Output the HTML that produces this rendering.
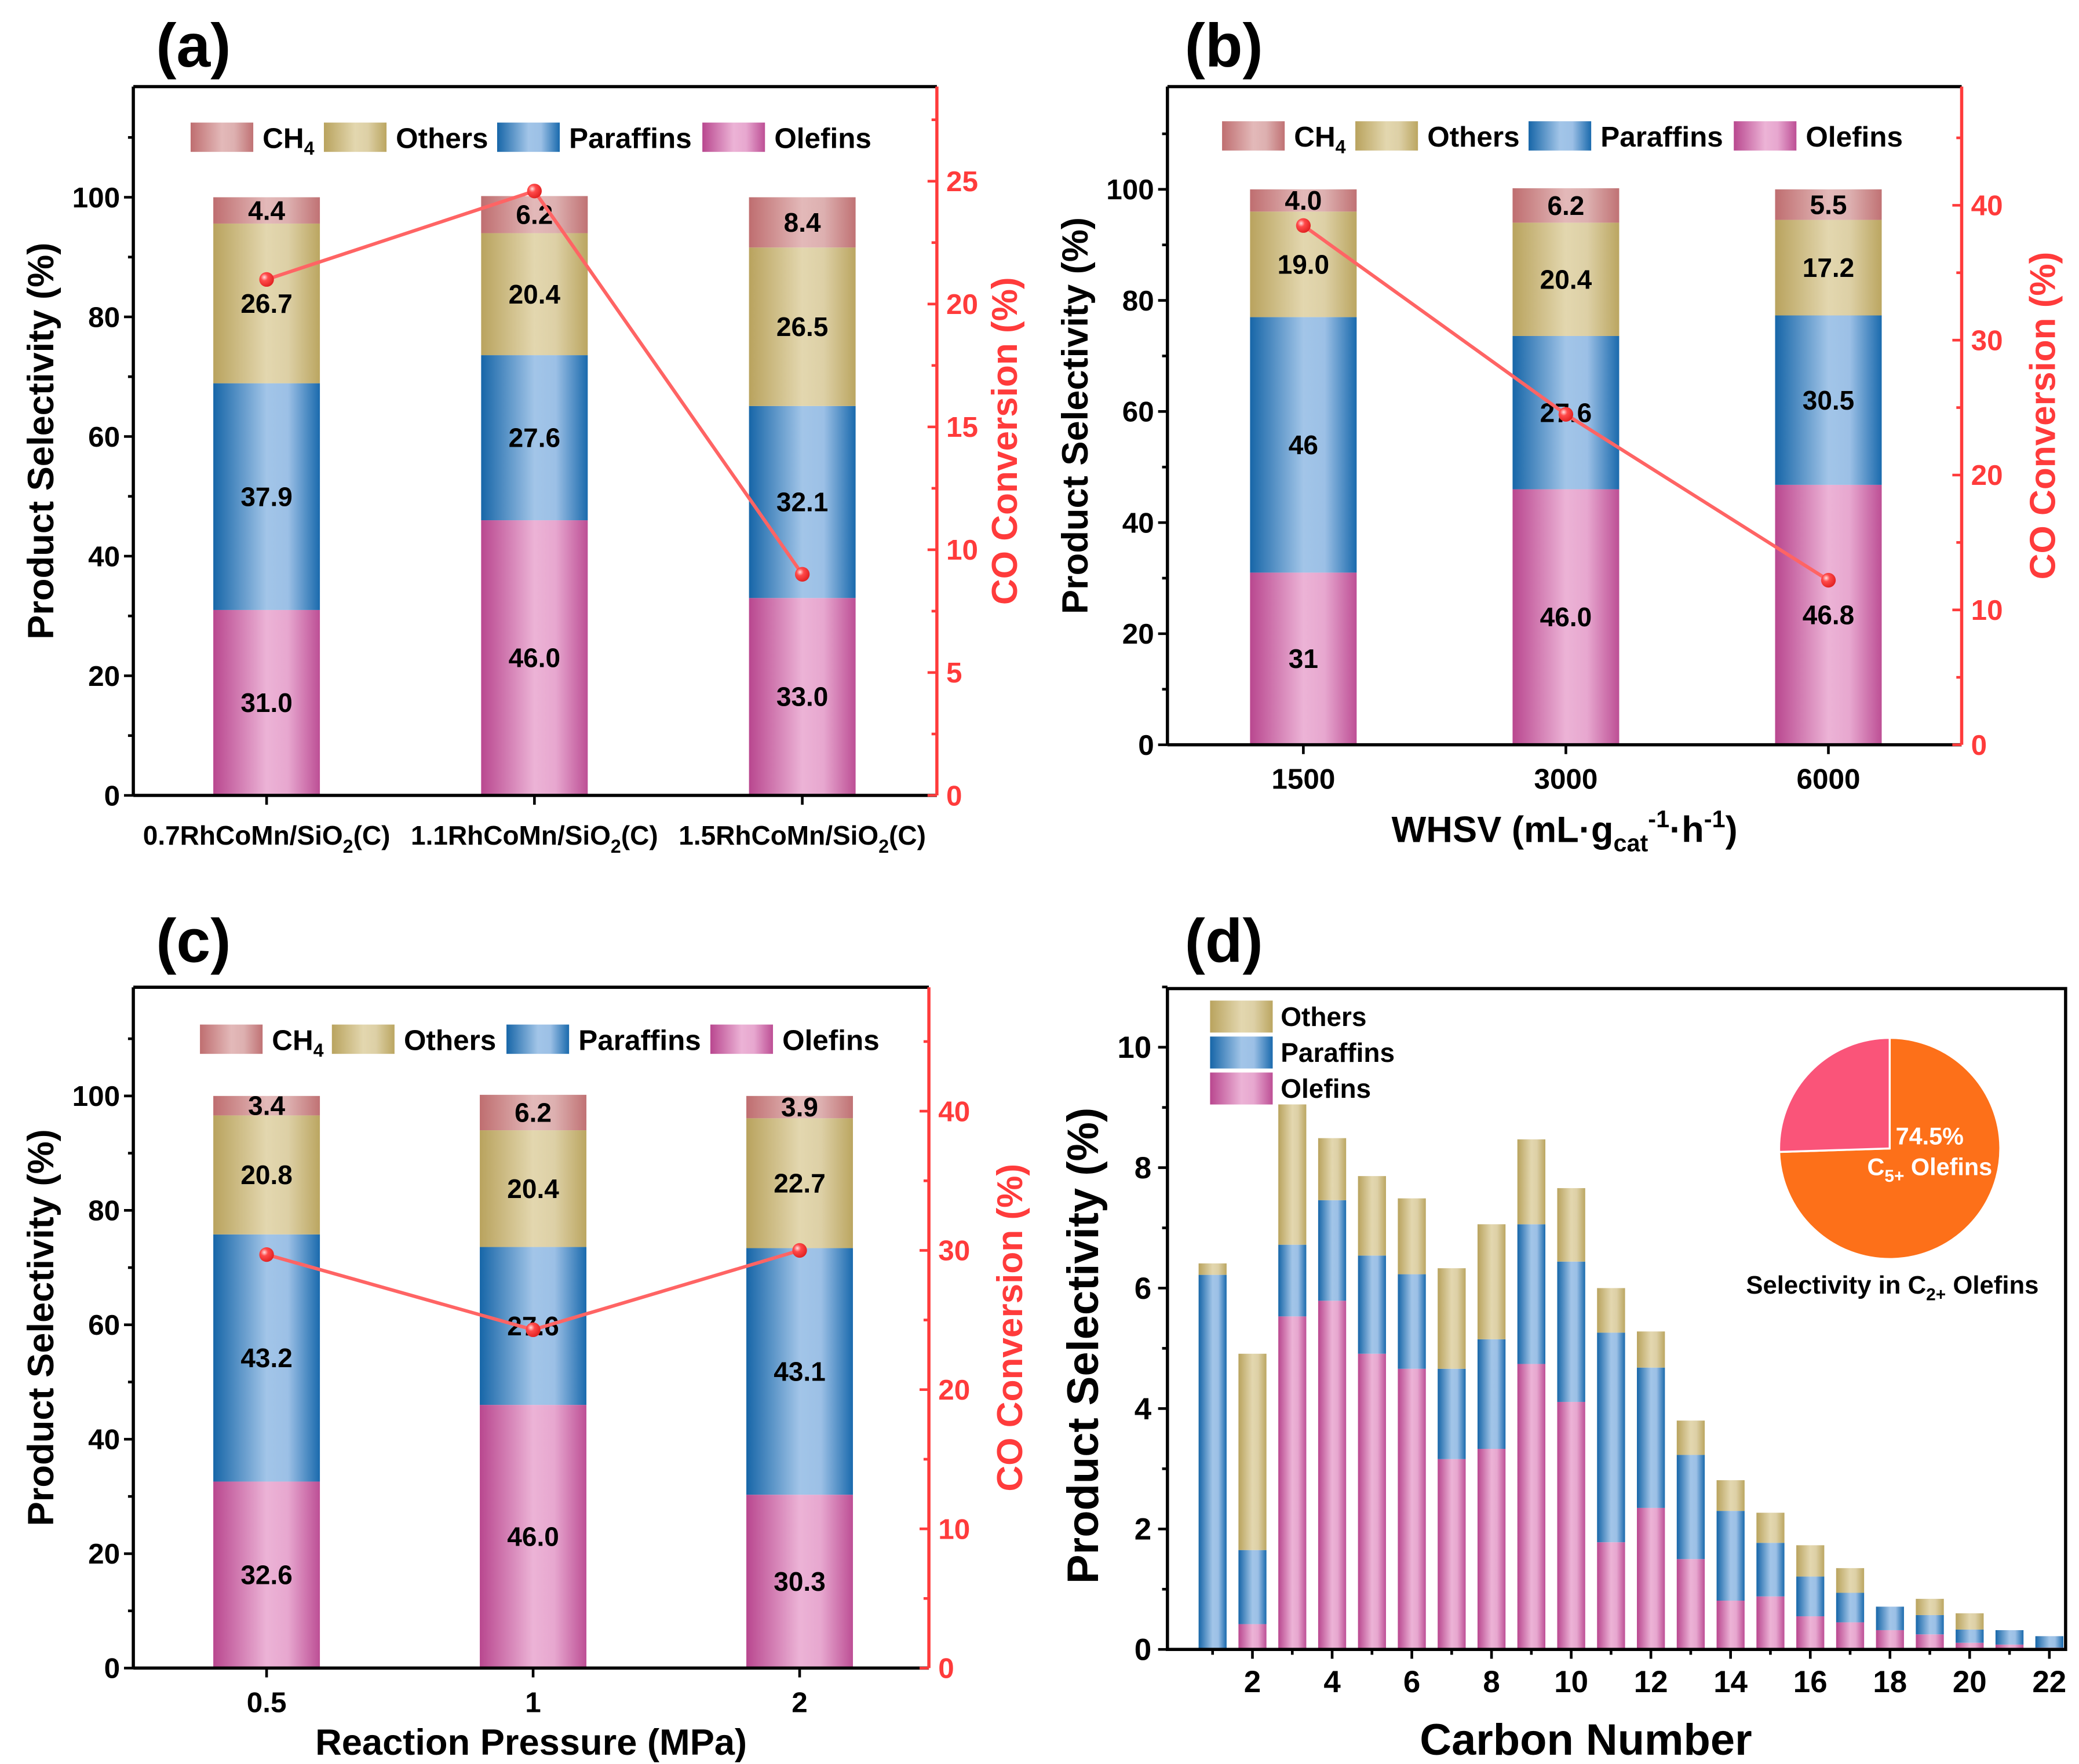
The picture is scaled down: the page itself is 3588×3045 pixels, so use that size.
<!DOCTYPE html>
<html><head><meta charset="utf-8"><style>
html,body{margin:0;padding:0;background:#fff}
svg{display:block}
text{font-family:"Liberation Sans",Arial,sans-serif;font-weight:bold}
</style></head><body>
<svg id="fig" xmlns="http://www.w3.org/2000/svg" width="3588" height="3045" viewBox="0 0 1560 1324">
<defs>
<linearGradient id="gOlef" x1="0" x2="1" y1="0" y2="0"><stop offset="0" stop-color="#b9478f"/><stop offset="0.5" stop-color="#ecb3d6"/><stop offset="0.7" stop-color="#e7a7cf"/><stop offset="1" stop-color="#bd4f95"/></linearGradient>
<linearGradient id="gPara" x1="0" x2="1" y1="0" y2="0"><stop offset="0" stop-color="#1766a8"/><stop offset="0.5" stop-color="#a2c5e8"/><stop offset="0.7" stop-color="#9cc0e6"/><stop offset="1" stop-color="#1a6aad"/></linearGradient>
<linearGradient id="gOth" x1="0" x2="1" y1="0" y2="0"><stop offset="0" stop-color="#b9a35e"/><stop offset="0.5" stop-color="#e3d7af"/><stop offset="0.7" stop-color="#ddd0a6"/><stop offset="1" stop-color="#bba661"/></linearGradient>
<linearGradient id="gCH4" x1="0" x2="1" y1="0" y2="0"><stop offset="0" stop-color="#bf6e70"/><stop offset="0.5" stop-color="#e3b9b9"/><stop offset="0.7" stop-color="#ddb0b0"/><stop offset="1" stop-color="#c07274"/></linearGradient>
<radialGradient id="gDot" cx="0.35" cy="0.35" r="0.7"><stop offset="0" stop-color="#ffe0e0"/><stop offset="0.35" stop-color="#ff4a4a"/><stop offset="1" stop-color="#e02020"/></radialGradient>
</defs>
</svg>
<script>
// ---------- data ----------
const seriesNames = ["Olefins","Paraffins","Others","CH4"];
const aCategories = ["0.7RhCoMn/SiO2(C)","1.1RhCoMn/SiO2(C)","1.5RhCoMn/SiO2(C)"];
const aOlefins = [31.0, 46.0, 33.0];
const aParaffins = [37.9, 27.6, 32.1];
const aOthers = [26.7, 20.4, 26.5];
const aCH4 = [4.4, 6.2, 8.4];
const aConversion = [21.0, 24.6, 9.0];
const aLabels = [["31.0","37.9","26.7","4.4"],["46.0","27.6","20.4","6.2"],["33.0","32.1","26.5","8.4"]];

const bCategories = ["1500","3000","6000"];
const bOlefins = [31, 46.0, 46.8];
const bParaffins = [46, 27.6, 30.5];
const bOthers = [19.0, 20.4, 17.2];
const bCH4 = [4.0, 6.2, 5.5];
const bConversion = [38.5, 24.5, 12.2];
const bLabels = [["31","46","19.0","4.0"],["46.0","27.6","20.4","6.2"],["46.8","30.5","17.2","5.5"]];

const cCategories = ["0.5","1","2"];
const cOlefins = [32.6, 46.0, 30.3];
const cParaffins = [43.2, 27.6, 43.1];
const cOthers = [20.8, 20.4, 22.7];
const cCH4 = [3.4, 6.2, 3.9];
const cConversion = [29.7, 24.3, 30.0];
const cLabels = [["32.6","43.2","20.8","3.4"],["46.0","27.6","20.4","6.2"],["30.3","43.1","22.7","3.9"]];

const dCarbon = [1,2,3,4,5,6,7,8,9,10,11,12,13,14,15,16,17,18,19,20,21,22];
const dOlefins = [0,0.42,5.53,5.79,4.91,4.66,3.16,3.33,4.74,4.11,1.78,2.35,1.50,0.81,0.88,0.55,0.45,0.32,0.25,0.11,0.08,0.03];
const dParaffins = [6.22,1.23,1.19,1.67,1.63,1.57,1.50,1.82,2.32,2.33,3.48,2.33,1.73,1.49,0.89,0.66,0.49,0.39,0.32,0.22,0.24,0.19];
const dOthers = [0.19,3.26,2.33,1.03,1.32,1.26,1.67,1.91,1.41,1.22,0.74,0.60,0.57,0.51,0.50,0.52,0.41,0,0.27,0.27,0,0];
const pieValues = [74.5, 25.5];
const yTicksLeft = [0,20,40,60,80,100];
const dYTicks = [0,2,4,6,8,10];
const dXTicks = [2,4,6,8,10,12,14,16,18,20,22];

// ---------- helpers ----------
const NS="http://www.w3.org/2000/svg";
const svg=document.getElementById('fig');
function mk(tag,attrs,parent){const e=document.createElementNS(NS,tag);for(const k in attrs)e.setAttribute(k,attrs[k]);(parent||svg).appendChild(e);return e;}
const fills=["url(#gOlef)","url(#gPara)","url(#gOth)","url(#gCH4)"];
const RED="#ff3b3b";

function panel(cfg){
  const g=mk('g',{});
  
  
  const {L,R,T,B,ymax,rmax,xs}=cfg;
  const y=v=>B-(B-T)*v/ymax;
  const yr=v=>B-(B-T)*v/rmax;
  for(let i=0;i<cfg.cats.length;i++){
    const vals=[cfg.ol[i],cfg.pa[i],cfg.ot[i],cfg.ch[i]];
    let acc=0;
    for(let s=0;s<4;s++){
      const y0=y(acc),y1=y(acc+vals[s]);
      const r=mk('rect',{x:xs[i]-40,y:y1,width:80,height:y0-y1,fill:fills[s]},g);
      
      
      const t=mk('text',{x:xs[i],y:(y0+y1)/2+7,'text-anchor':'middle','font-size':20,fill:'#000'},g);
      t.textContent=cfg.labels[i][s];
      
      
      acc+=vals[s];
    }
  }
  const pts=cfg.conv.map((v,i)=>[xs[i],yr(v)]);
  const pl=mk('polyline',{points:pts.map(p=>p.join(',')).join(' '),fill:'none',stroke:'#ff6464','stroke-width':2.6},g);
  
  
  pts.forEach(p=>{const c=mk('circle',{cx:p[0],cy:p[1],r:5.5,fill:'url(#gDot)'},g);
    
    });
  mk('line',{x1:L,y1:T,x2:R,y2:T,stroke:'#000','stroke-width':2.4},g);
  mk('line',{x1:L,y1:T,x2:L,y2:B,stroke:'#000','stroke-width':2.4},g);
  mk('line',{x1:L,y1:B,x2:R,y2:B,stroke:'#000','stroke-width':2.4},g);
  const ra=mk('line',{x1:R,y1:T,x2:R,y2:B,stroke:RED,'stroke-width':2.4},g);
  
  
  for(let v=0;v<=ymax;v+=10){
    const major=v%20===0&&v<=100;
    mk('line',{x1:L,y1:y(v),x2:L-(major?7:4),y2:y(v),stroke:'#000','stroke-width':2},g);
  }
  yTicksLeft.forEach(v=>{const t=mk('text',{x:L-10,y:y(v)+7.5,'text-anchor':'end','font-size':21.5},g);t.textContent=v;
    });
  for(let v=0;v<=rmax;v+=cfg.rminor){
    const major=Math.abs(v/cfg.rstep-Math.round(v/cfg.rstep))<1e-6;
    mk('line',{x1:R,y1:yr(v),x2:R-(major?7:4),y2:yr(v),stroke:RED,'stroke-width':2},g);
    if(major){const t=mk('text',{x:R+7,y:yr(v)+7.5,'font-size':21.5,fill:RED},g);t.textContent=v;
      }
  }
  xs.forEach((x,i)=>{mk('line',{x1:x,y1:B,x2:x,y2:B+7,stroke:'#000','stroke-width':2},g);
    const t=mk('text',{x:x,y:B+cfg.xlabOff,'text-anchor':'middle','font-size':cfg.xlabSize},g);
    if(cfg.sio2){t.innerHTML=cfg.cats[i].replace('SiO2','SiO<tspan dy="6" font-size="14">2</tspan><tspan dy="-6">')+'</tspan>';}
    else t.textContent=cfg.cats[i];
    });
  const yt=mk('text',{x:0,y:0,transform:`translate(${L-60},${(T+B)/2}) rotate(-90)`,'text-anchor':'middle','font-size':27.5},g);
  yt.textContent='Product Selectivity (%)';
  
  const rt=mk('text',{x:0,y:0,transform:`translate(${R+cfg.rtOff},${(T+B)/2}) rotate(-90)`,'text-anchor':'middle','font-size':27,fill:RED},g);
  rt.textContent='CO Conversion (%)';
  
  if(cfg.xtitle){const xt=mk('text',{x:(L+R)/2,y:cfg.xtitleY,'text-anchor':'middle','font-size':27.5},g);
    xt.innerHTML=cfg.xtitle;}
  const lf=["url(#gCH4)","url(#gOth)","url(#gPara)","url(#gOlef)"];
  const ln=["CH<tspan dy='5' font-size='14'>4</tspan>","Others","Paraffins","Olefins"];
  cfg.legX.forEach((lx,k)=>{
    const r=mk('rect',{x:lx,y:cfg.legY-11,width:47,height:22,fill:lf[k]},g);
    
    const t=mk('text',{x:lx+54,y:cfg.legY+8,'font-size':21.5},g);t.innerHTML=ln[k];
    
  });
  const pt=mk('text',{x:cfg.tagX,y:cfg.tagY,'font-size':46},g);pt.textContent=cfg.tag;
  
}

panel({name:'panel-a',L:100,R:703,T:65,B:597,ymax:118.5,rmax:28.85,rstep:5,rminor:2.5,xs:[200,401,602],
  cats:aCategories,ol:aOlefins,pa:aParaffins,ot:aOthers,ch:aCH4,conv:aConversion,labels:aLabels,
  sio2:true,xlabOff:37,xlabSize:20,rtOff:60,legX:[143,243,373,527],legY:103,tag:'(a)',tagX:117,tagY:50});
panel({name:'panel-b',L:876,R:1472,T:65,B:559,ymax:118.5,rmax:48.8,rstep:10,rminor:5,xs:[978,1175,1372],
  cats:bCategories,ol:bOlefins,pa:bParaffins,ot:bOthers,ch:bCH4,conv:bConversion,labels:bLabels,
  xlabOff:33,xlabSize:21.5,rtOff:70,xtitle:"WHSV (mL·g<tspan dy='7' font-size='18'>cat</tspan><tspan dy='-18' font-size='18'>-1</tspan><tspan dy='11'>·h</tspan><tspan dy='-11' font-size='18'>-1</tspan><tspan dy='11'>)</tspan>",xtitleY:632,
  legX:[917,1017,1147,1301],legY:102,tag:'(b)',tagX:889,tagY:50});
panel({name:'panel-c',L:100,R:697,T:741,B:1252,ymax:119,rmax:48.9,rstep:10,rminor:5,xs:[200,400,600],
  cats:cCategories,ol:cOlefins,pa:cParaffins,ot:cOthers,ch:cCH4,conv:cConversion,labels:cLabels,
  xlabOff:33,xlabSize:21.5,rtOff:70,xtitle:'Reaction Pressure (MPa)',xtitleY:1317,
  legX:[150,249,380,533],legY:780,tag:'(c)',tagX:117,tagY:722});

// ---------- panel d ----------
(function(){
  const g=mk('g',{});
  
  
  const L=876,R=1550,T=742,B=1238;
  const x=v=>880+(v)*29.9;
  const y=v=>B-v*45.2;
  const ser=[dOlefins,dParaffins,dOthers];
  dCarbon.forEach((c,i)=>{
    let acc=0;
    for(let s=0;s<3;s++){
      const v=ser[s][i];
      if(v>0){
        const r=mk('rect',{x:x(c)-10.5,y:y(acc+v),width:21,height:y(acc)-y(acc+v),fill:fills[s]},g);
        
        
      }
      acc+=v;
    }
  });
  mk('rect',{x:L,y:T,width:R-L,height:B-T,fill:'none',stroke:'#000','stroke-width':2.4},g);
  for(let v=0;v<=11;v+=1){mk('line',{x1:L,y1:y(v),x2:L-(v%2===0?7:4),y2:y(v),stroke:'#000','stroke-width':2},g);}
  dYTicks.forEach(v=>{const t=mk('text',{x:L-12,y:y(v)+8,'text-anchor':'end','font-size':23},g);t.textContent=v;
    });
  for(let v=1;v<=22;v++){mk('line',{x1:x(v),y1:B,x2:x(v),y2:B+(v%2===0?7:4),stroke:'#000','stroke-width':2},g);}
  dXTicks.forEach(v=>{const t=mk('text',{x:x(v),y:B+32,'text-anchor':'middle','font-size':23},g);t.textContent=v;
    });
  const yt=mk('text',{x:0,y:0,transform:`translate(${L-52},${(T+B)/2+20}) rotate(-90)`,'text-anchor':'middle','font-size':33},g);
  yt.textContent='Product Selectivity (%)';
  const xt=mk('text',{x:1190,y:1317,'text-anchor':'middle','font-size':33},g);
  xt.textContent='Carbon Number';
  const lf=["url(#gOth)","url(#gPara)","url(#gOlef)"],ln=["Others","Paraffins","Olefins"];
  [763,790,817].forEach((ly,k)=>{
    const r=mk('rect',{x:908,y:ly-12,width:47,height:24,fill:lf[k]},g);
    
    const t=mk('text',{x:961,y:ly+7,'font-size':20},g);t.textContent=ln[k];
    
  });
  const cx=1418,cy=862,rr=83;
  const tot=pieValues[0]+pieValues[1];
  const a1=2*Math.PI*pieValues[0]/tot;
  const px=cx+rr*Math.sin(a1),py=cy-rr*Math.cos(a1);
  const s1=mk('path',{d:`M${cx},${cy} L${cx},${cy-rr} A${rr},${rr} 0 ${a1>Math.PI?1:0} 1 ${px},${py} Z`,fill:'#fd7019',stroke:'#fff','stroke-width':1.5},g);
  
  const s2=mk('path',{d:`M${cx},${cy} L${px},${py} A${rr},${rr} 0 ${a1>Math.PI?0:1} 1 ${cx},${cy-rr} Z`,fill:'#fa5479',stroke:'#fff','stroke-width':1.5},g);
  
  const t1=mk('text',{x:1448,y:859,'text-anchor':'middle','font-size':18,fill:'#fff'},g);t1.textContent=pieValues[0]+'%';
  
  const t2=mk('text',{x:1448,y:882,'text-anchor':'middle','font-size':18,fill:'#fff'},g);
  t2.innerHTML="C<tspan dy='5' font-size='13'>5+</tspan><tspan dy='-5'> Olefins</tspan>";
  
  const t3=mk('text',{x:1420,y:971,'text-anchor':'middle','font-size':19},g);
  t3.innerHTML="Selectivity in C<tspan dy='5' font-size='13'>2+</tspan><tspan dy='-5'> Olefins</tspan>";
  
  const pt=mk('text',{x:889,y:722,'font-size':46},g);pt.textContent='(d)';
  
})();
</script>
</body></html>
